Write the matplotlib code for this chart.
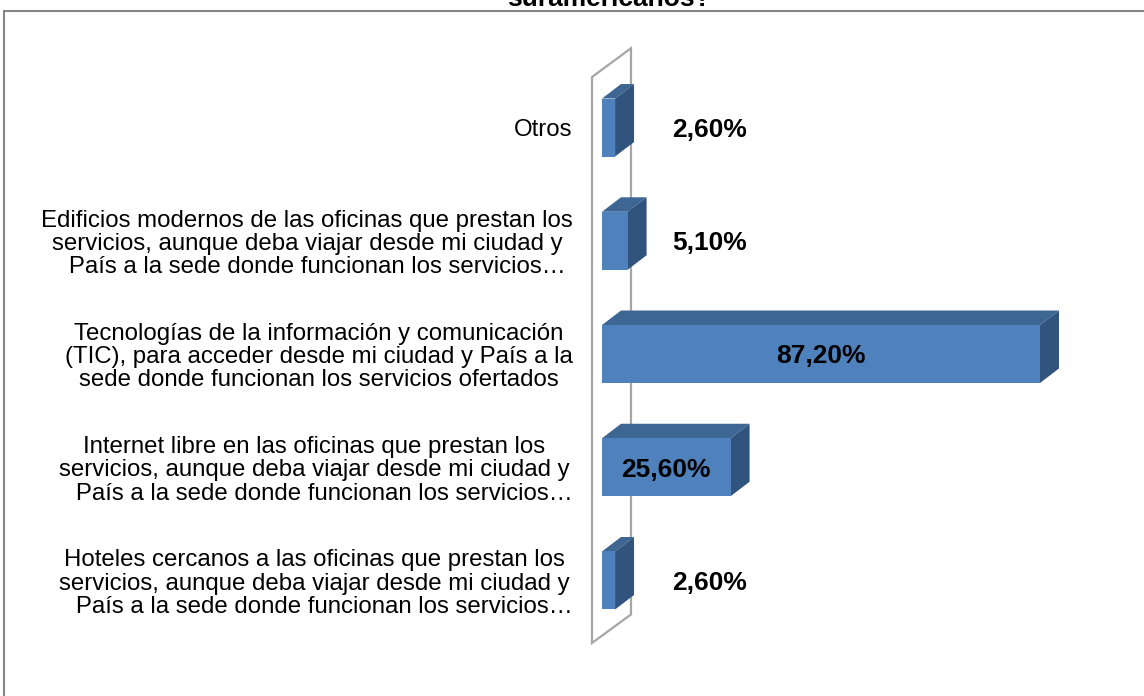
import numpy as np
import matplotlib
matplotlib.use("Agg")
import matplotlib.pyplot as plt
from matplotlib.patches import Polygon, Rectangle

plt.rcParams['font.family'] = ['Liberation Sans', 'DejaVu Sans']

# datos (de abajo hacia arriba)
categorias = [
    "Hoteles cercanos a las oficinas que prestan los\n"
    "servicios, aunque deba viajar desde mi ciudad y\n"
    "   País a la sede donde funcionan los servicios…",
    "Internet libre en las oficinas que prestan los\n"
    "servicios, aunque deba viajar desde mi ciudad y\n"
    "   País a la sede donde funcionan los servicios…",
    "Tecnologías de la información y comunicación\n"
    "(TIC), para acceder desde mi ciudad y País a la\n"
    "sede donde funcionan los servicios ofertados",
    "Edificios modernos de las oficinas que prestan los\n"
    "servicios, aunque deba viajar desde mi ciudad y\n"
    "   País a la sede donde funcionan los servicios…",
    "Otros",
]
valores = [2.6, 25.6, 87.2, 5.1, 2.6]
titulo = "suramericanos?"

W, H = 1144, 696
fig = plt.figure(figsize=(W / 100, H / 100), dpi=100)

# ejes: 0% en x=602px, 5.023 px por %, categorías cada 113.25 px
ax = fig.add_axes([602 / W, (H - 637.1) / H, 502.3 / W, 566.2 / H])
ax.set_xlim(0, 100)
ax.set_ylim(-0.5, 4.5)

# profundidad 3D (unidades de datos)
dx, dy = 3.78, 0.128
bar_h = 0.512
c_front, c_top, c_side = '#4f81bd', '#3e6693', '#31547f'

# pared (plano del eje de categorías)
wx0, wx1 = -1.99, 5.77
wall = Polygon([(wx0, -0.552), (wx0, 4.446), (wx1, 4.70), (wx1, -0.30)],
               closed=True, facecolor='white', edgecolor='#a6a6a6',
               linewidth=1.6, clip_on=False, zorder=1)
ax.add_patch(wall)

for i, v in enumerate(valores):
    y0, y1 = i - bar_h / 2, i + bar_h / 2
    front = Polygon([(0, y0), (v, y0), (v, y1), (0, y1)],
                    facecolor=c_front, edgecolor='none', clip_on=False, zorder=3)
    top = Polygon([(0, y1), (v, y1), (v + dx, y1 + dy), (dx, y1 + dy)],
                  facecolor=c_top, edgecolor='none', clip_on=False, zorder=2)
    side = Polygon([(v, y0), (v + dx, y0 + dy), (v + dx, y1 + dy), (v, y1)],
                   facecolor=c_side, edgecolor='none', clip_on=False, zorder=2)
    for p in (top, side, front):
        ax.add_patch(p)

    txt = f"{v:.2f}%".replace('.', ',')
    if v > 20:
        ax.text(v / 2, i - 0.02, txt, ha='center', va='center',
                fontsize=19, fontweight='bold', zorder=5)
    else:
        ax.text(21.5, i - 0.02, txt, ha='center', va='center',
                fontsize=19, fontweight='bold', zorder=5)

ax.set_yticks(range(len(categorias)), labels=categorias)
ax.tick_params(axis='y', length=0, pad=21, labelsize=17.3)
for lbl in ax.get_yticklabels():
    lbl.set_multialignment('center')
    lbl.set_linespacing(1.07)
ax.set_xticks([])
for s in ax.spines.values():
    s.set_visible(False)

# marco del gráfico (cortado a la derecha y abajo)
fig.patches.append(Rectangle((4 / W, -0.1), 1.2, (H - 11) / H + 0.1,
                             transform=fig.transFigure, fill=False,
                             edgecolor='#868686', linewidth=1.5))

fig.text(609 / W, (H - 6) / H, titulo, ha='center', va='baseline',
         fontsize=19, fontweight='bold')

fig.savefig('out.png', dpi=100)
